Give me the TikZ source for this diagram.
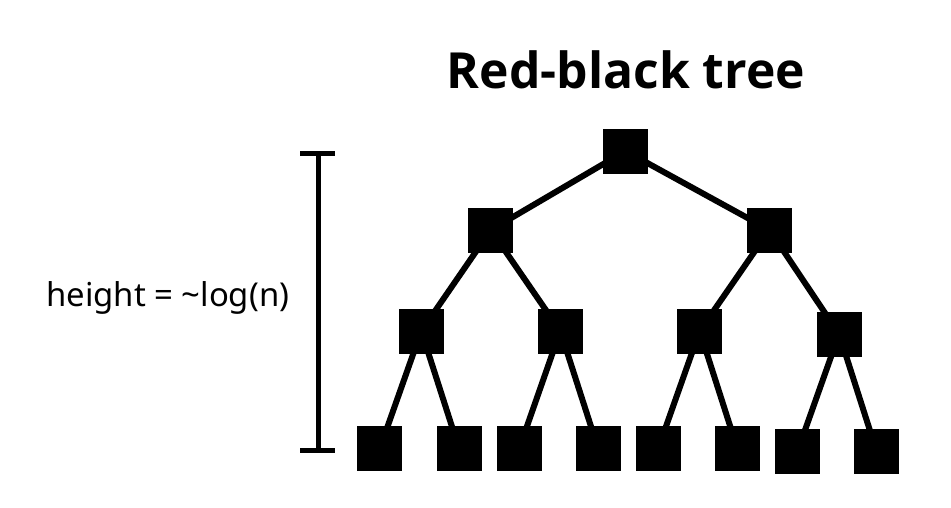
\documentclass[tikz,border=0pt]{standalone}
\usepackage{fontspec}
\setmainfont{Noto Sans}
\newfontfamily\titlefont{Open Sans}
\usepackage{graphicx}
\begin{document}
\begin{tikzpicture}[x=1pt,y=-1pt,
  sq/.style={rectangle,fill=black,draw=none,minimum width=45pt,minimum height=45pt,inner sep=0pt},
  edge/.style={line width=6pt},
  brk/.style={line width=5pt}]
\useasboundingbox (0,0) rectangle (951,507);
% edges first (behind squares)
\coordinate (cr) at (625.5,151);
\coordinate (c2a) at (490.8,230);
\coordinate (c2b) at (769.5,230);
\coordinate (c3a) at (421.3,331);
\coordinate (c3b) at (560.3,331);
\coordinate (c3c) at (699.7,331);
\coordinate (c3d) at (839.1,334);
\coordinate (c4a) at (379.8,448.5);
\coordinate (c4b) at (459,448.5);
\coordinate (c4c) at (519.2,448.5);
\coordinate (c4d) at (598.1,448.5);
\coordinate (c4e) at (658.2,448.5);
\coordinate (c4f) at (737.3,448.5);
\coordinate (c4g) at (797.6,451);
\coordinate (c4h) at (876.5,451);
\draw[edge] (cr) -- (c2a);
\draw[edge] (cr) -- (c2b);
\draw[edge] (c2a) -- (c3a);
\draw[edge] (c2a) -- (c3b);
\draw[edge] (c2b) -- (c3c);
\draw[edge] (c2b) -- (c3d);
\draw[edge] (c3a) -- (c4a);
\draw[edge] (c3a) -- (c4b);
\draw[edge] (c3b) -- (c4c);
\draw[edge] (c3b) -- (c4d);
\draw[edge] (c3c) -- (c4e);
\draw[edge] (c3c) -- (c4f);
\draw[edge] (c3d) -- (c4g);
\draw[edge] (c3d) -- (c4h);
% squares
\node[sq] (r) at (cr) {};
\node[sq] (l2a) at (c2a) {};
\node[sq] (l2b) at (c2b) {};
\node[sq] (l3a) at (c3a) {};
\node[sq] (l3b) at (c3b) {};
\node[sq] (l3c) at (c3c) {};
\node[sq] (l3d) at (c3d) {};
\node[sq] (l4a) at (c4a) {};
\node[sq] (l4b) at (c4b) {};
\node[sq] (l4c) at (c4c) {};
\node[sq] (l4d) at (c4d) {};
\node[sq] (l4e) at (c4e) {};
\node[sq] (l4f) at (c4f) {};
\node[sq] (l4g) at (c4g) {};
\node[sq] (l4h) at (c4h) {};
% title
\node[anchor=base,inner sep=0pt] (title) at (626,88) {\resizebox{358pt}{!}{\titlefont\bfseries Red-black tree}};
% bracket
\coordinate (bt) at (318,153.5);
\coordinate (bb) at (318,450.5);
\coordinate (btl) at (300,153.5);
\coordinate (btr) at (335,153.5);
\coordinate (bbl) at (300,450.5);
\coordinate (bbr) at (335,450.5);
\draw[brk] (bt) -- (bb);
\draw[brk] (btl) -- (btr);
\draw[brk] (bbl) -- (bbr);
% label
\node[anchor=base west,inner sep=0pt] (lbl) at (46,306) {\resizebox{243pt}{!}{height = \textasciitilde log(n)}};
\end{tikzpicture}
\end{document}
